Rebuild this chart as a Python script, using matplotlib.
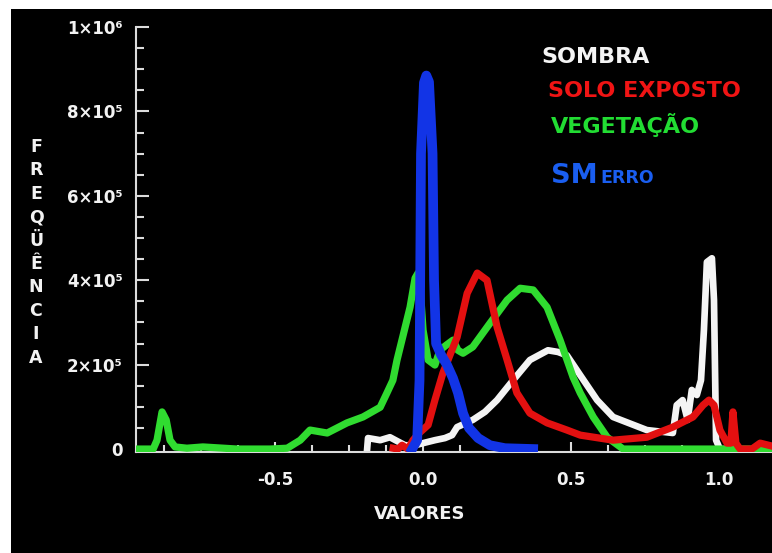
import matplotlib
matplotlib.use("Agg")
import matplotlib.pyplot as plt
from matplotlib.patches import Rectangle
from matplotlib.ticker import MultipleLocator

# ---- histogram curves (value, frequency) ----
veg_x = [-0.969, -0.911, -0.898, -0.881, -0.867, -0.854, -0.837, -0.797, -0.743,
         -0.627, -0.516, -0.458, -0.414, -0.381, -0.323, -0.256, -0.202, -0.144,
         -0.121, -0.101, -0.087, -0.043, -0.026, -0.016, -0.009, 0.001, 0.018,
         0.041, 0.058, 0.079, 0.102, 0.119, 0.136, 0.169, 0.227, 0.285, 0.329,
         0.373, 0.420, 0.464, 0.508, 0.532, 0.576, 0.623, 0.677, 1.18]
veg_y = [0, 0, 21e3, 88e3, 69e3, 21e3, 5e3, 2e3, 5e3,
         0, 0, 2e3, 21e3, 45e3, 38e3, 62e3, 76e3, 99e3,
         133e3, 163e3, 211e3, 336e3, 405e3, 417e3, 384e3, 282e3, 211e3,
         199e3, 234e3, 246e3, 258e3, 234e3, 227e3, 242e3, 298e3, 353e3, 381e3,
         377e3, 336e3, 258e3, 170e3, 133e3, 76e3, 28e3, 0, 0]

solo_x = [-0.100, -0.084, -0.070, -0.050, -0.033, -0.009, 0.018, 0.041, 0.068,
          0.092, 0.116, 0.150, 0.184, 0.217, 0.251, 0.285, 0.318, 0.362, 0.420,
          0.487, 0.532, 0.643, 0.757, 0.845, 0.913, 0.947, 0.967, 0.984, 1.004,
          1.028, 1.041, 1.048, 1.058, 1.072, 1.112, 1.140, 1.18]
solo_y = [2e3, 0, 9e3, 0, 21e3, 40e3, 57e3, 116e3, 180e3,
          223e3, 265e3, 369e3, 417e3, 400e3, 289e3, 211e3, 133e3, 85e3, 62e3,
          45e3, 33e3, 21e3, 28e3, 52e3, 76e3, 104e3, 116e3, 104e3, 45e3,
          14e3, 14e3, 88e3, 14e3, 0, 0, 14e3, 7e3]

sombra_x = [-0.188, -0.185, -0.144, -0.111, -0.087, -0.060, -0.026, 0.001, 0.041,
            0.075, 0.099, 0.116, 0.169, 0.210, 0.251, 0.305, 0.362, 0.423, 0.457,
            0.487, 0.532, 0.589, 0.643, 0.757, 0.845, 0.858, 0.878, 0.895, 0.909,
            0.926, 0.940, 0.950, 0.960, 0.977, 0.984, 0.991, 1.004, 1.02]
sombra_y = [0, 26e3, 21e3, 28e3, 19e3, 9e3, 9e3, 14e3, 21e3,
            26e3, 33e3, 52e3, 69e3, 88e3, 116e3, 163e3, 211e3, 234e3, 230e3,
            222e3, 175e3, 116e3, 76e3, 45e3, 38e3, 104e3, 116e3, 69e3, 140e3,
            128e3, 163e3, 282e3, 443e3, 452e3, 353e3, 21e3, 0, 0]

smerro_x = [-0.036, -0.019, -0.011, -0.006, 0.004, 0.012, 0.021, 0.033, 0.038,
            0.045, 0.062, 0.082, 0.102, 0.119, 0.136, 0.156, 0.187, 0.227, 0.278,
            0.373]
smerro_y = [0, 21e3, 163e3, 700e3, 868e3, 885e3, 870e3, 700e3, 400e3,
            250e3, 223e3, 199e3, 168e3, 133e3, 85e3, 50e3, 26e3, 9e3, 2e3,
            0]

# ---- axis ticks ----
xtick_vals = [-0.5, 0.0, 0.5, 1.0]
xtick_labels = ["-0.5", "0.0", "0.5", "1.0"]
ytick_vals = [0, 2e5, 4e5, 6e5, 8e5, 1e6]
ytick_labels = ["0", "2×10⁵", "4×10⁵", "6×10⁵", "8×10⁵", "1×10⁶"]

legend_entries = ["SOMBRA", "SOLO EXPOSTO", "VEGETAÇÃO"]
ylabel_text = "FREQÜÊNCIA"
xlabel_text = "VALORES"

W, H = 772, 553
fig = plt.figure(figsize=(W / 100, H / 100), dpi=100, facecolor="white")
fig.add_artist(Rectangle((11 / W, 0), 1 - 11 / W, 1 - 9 / H,
                         transform=fig.transFigure, facecolor="black",
                         edgecolor="none", zorder=0))

ax = fig.add_axes([136 / W, 1 - 452 / H, 1 - 136 / W, (452 - 27) / H])
ax.set_facecolor("none")
ax.set_xlim(-0.969, 1.18)
ax.set_ylim(-7e3, 1e6)

c_white, c_red, c_green, c_blue = "#f4f4f4", "#e31010", "#30dc30", "#1234e6"
ax.plot(sombra_x, sombra_y, color=c_white, lw=4.8, solid_joinstyle="round", zorder=2)
ax.plot(veg_x, veg_y, color=c_green, lw=5.2, solid_joinstyle="round", zorder=3)
ax.plot(solo_x, solo_y, color=c_red, lw=5.2, solid_joinstyle="round", zorder=4)
ax.plot(smerro_x, smerro_y, color=c_blue, lw=7, solid_joinstyle="round", zorder=5)

for side in ("top", "right"):
    ax.spines[side].set_visible(False)
for side in ("left", "bottom"):
    ax.spines[side].set_color("#dcdcdc")
    ax.spines[side].set_linewidth(1.5)

ax.set_xticks(xtick_vals)
ax.set_xticklabels(xtick_labels)
ax.set_yticks(ytick_vals)
ax.set_yticklabels(ytick_labels)
ax.xaxis.set_minor_locator(MultipleLocator(0.125))
ax.yaxis.set_minor_locator(MultipleLocator(5e4))
ax.tick_params(which="both", direction="in", color="#dcdcdc", width=1.5,
               labelcolor="#f2f2f2")
ax.tick_params(axis="x", which="major", length=7, pad=14)
ax.tick_params(axis="x", which="minor", length=5)
ax.tick_params(axis="y", which="major", length=9, pad=9.5)
ax.tick_params(axis="y", which="minor", length=5.5)
for lab in ax.get_xticklabels() + ax.get_yticklabels():
    lab.set_fontweight("bold")
    lab.set_fontsize(12)

def fx(px):
    return px / W

def fy(py):
    return 1 - py / H

# axis titles
fig.text(fx(420), fy(519), xlabel_text, color="#f2f2f2", fontsize=13,
         fontweight="bold", ha="center", va="baseline")
for i, ch in enumerate(ylabel_text):
    fig.text(fx(36), fy(152 + 23.4 * i), ch, color="#f2f2f2", fontsize=12.5,
             fontweight="bold", ha="center", va="baseline")

# legend labels
legend_colors = ["#f4f4f4", "#f01414", "#22dd33"]
legend_left = [541, 548, 551]
legend_base = [63, 97, 133]
for txt, col, lx, by in zip(legend_entries, legend_colors, legend_left, legend_base):
    fig.text(fx(lx), fy(by), txt, color=col, fontsize=16, fontweight="bold",
             ha="left", va="baseline")
fig.text(fx(551), fy(183), "SM", color="#1a5ef0", fontsize=19.5,
         fontweight="bold", ha="left", va="baseline")
fig.text(fx(600), fy(183), "ERRO", color="#1a5ef0", fontsize=12.5,
         fontweight="bold", ha="left", va="baseline")

fig.savefig("out.png", dpi=100, facecolor=fig.get_facecolor())
